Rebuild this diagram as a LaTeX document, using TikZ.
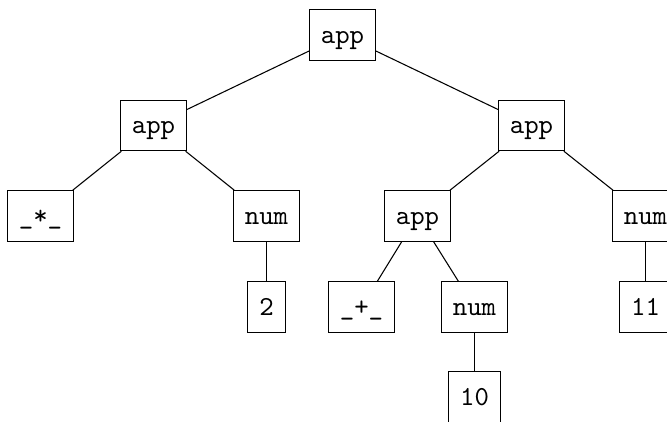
\documentclass[tikz,border=0pt]{standalone}
\begin{document}
\begin{tikzpicture}[x=0.375pt,y=-0.375pt,
  term/.style={draw, rectangle, line width=0.4pt,
    font=\fontsize{10.3pt}{12pt}\ttfamily,
    inner xsep=4.25pt, inner ysep=0pt,
    text height=8pt, text depth=1.8pt,
    minimum height=18.9pt},
  link/.style={line width=0.4pt}]
  % page area; nodes near the right and bottom edges are cut off
  \clip (0,0) rectangle (667,421);
  \path[use as bounding box] (0,0) rectangle (667,421);

  % syntax tree nodes
  \node[term] (root)   at (342.5, 35)   {app};
  \node[term] (appL)   at (153.5,125.5) {app};
  \node[term] (appR)   at (531.5,125.5) {app};
  \node[term] (times)  at (40.5, 216)   {\_*\_};
  \node[term] (numL)   at (266.5,216)   {num};
  \node[term] (appM)   at (417.5,216)   {app};
  \node[term] (numR)   at (645.5,216)   {num};
  \node[term] (two)    at (266.5,307)   {2};
  \node[term] (plus)   at (361.5,307)   {\_+\_};
  \node[term] (numM)   at (474.5,307)   {num};
  \node[term] (eleven) at (645.5,307)   {11};
  \node[term] (ten)    at (474.5,397)   {10};

  % edges
  \draw[link] (root) -- (appL);
  \draw[link] (root) -- (appR);
  \draw[link] (appL) -- (times);
  \draw[link] (appL) -- (numL);
  \draw[link] (numL) -- (two);
  \draw[link] (appR) -- (appM);
  \draw[link] (appR) -- (numR);
  \draw[link] (appM) -- (plus);
  \draw[link] (appM) -- (numM);
  \draw[link] (numM) -- (ten);
  \draw[link] (numR) -- (eleven);
\end{tikzpicture}
\end{document}
